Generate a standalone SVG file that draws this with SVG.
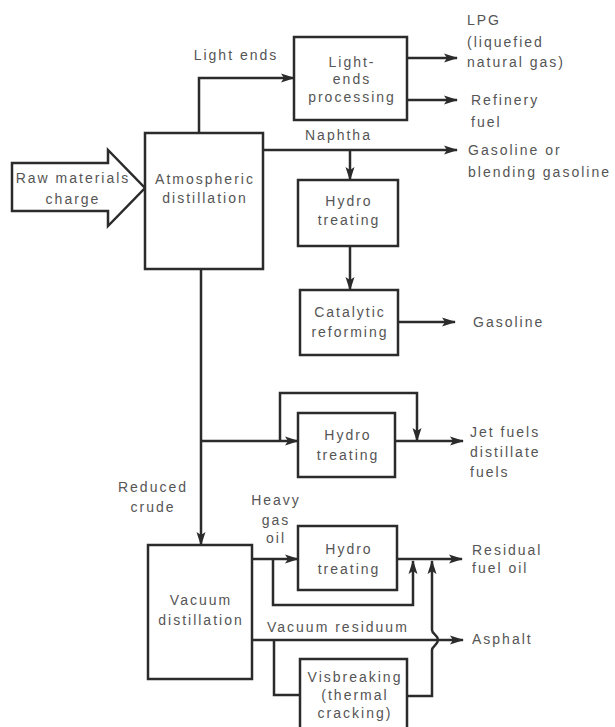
<svg xmlns="http://www.w3.org/2000/svg" width="615" height="727" viewBox="0 0 615 727">
<defs>
<style>
.box{fill:#fff;stroke:#2b2b2b;stroke-width:2.5}
.ln{fill:none;stroke:#2b2b2b;stroke-width:2.5;marker-end:url(#ah)}
.pl{fill:none;stroke:#2b2b2b;stroke-width:2.5}
text{font-family:"Liberation Sans",Arial,sans-serif;font-size:14px;fill:#555;letter-spacing:2px}
.c{text-anchor:middle}
</style>
<marker id="ah" markerUnits="userSpaceOnUse" markerWidth="14" markerHeight="10" refX="13" refY="5" orient="auto">
<path d="M0,0.5 L14,5 L0,9.5 L3,5 Z" fill="#2b2b2b"/>
</marker>
</defs>
<rect width="615" height="727" fill="#fff"/>

<g id="connectors">
<path class="ln" d="M199,133 V78 H294"/>
<path class="ln" d="M407,58 H457"/>
<path class="ln" d="M407,100 H457"/>
<path class="ln" d="M263,150 H457"/>
<path class="ln" d="M350,150 V180"/>
<path class="ln" d="M350,246 V290"/>
<path class="ln" d="M398,322 H455"/>
<path class="ln" d="M201,269 V545"/>
<path class="ln" d="M201,441 H298"/>
<path class="ln" d="M280,441 V393 H417 V441"/>
<path class="ln" d="M395,441 H463"/>
<path class="ln" d="M252,559 H298"/>
<path class="ln" d="M273,559 V605 H413 V561"/>
<path class="ln" d="M397,559 H462"/>
<path class="ln" d="M252,640 H463"/>
<path class="pl" d="M274,640 V695 H300"/>
<path class="ln" d="M407,696 H432 V650 C432,646 438,645 438,640 C438,635 432,634 432,630 V561"/>
</g>

<g id="raw-materials">
<path class="box" d="M12,163 H108 V150 L145,188 L108,226 V211 H12 Z"/>
<text class="c" x="73" y="183">Raw materials</text>
<text class="c" x="73" y="204">charge</text>
</g>

<g id="atmospheric-distillation">
<rect class="box" x="145" y="133" width="118" height="136"/>
<text class="c" x="205" y="184">Atmospheric</text>
<text class="c" x="205" y="203">distillation</text>
</g>

<g id="light-ends-processing">
<rect class="box" x="294" y="37" width="113" height="83"/>
<text class="c" x="352" y="67">Light-</text>
<text class="c" x="352" y="84">ends</text>
<text class="c" x="352" y="102">processing</text>
</g>

<g id="hydro-treating-1">
<rect class="box" x="298" y="180" width="100" height="66"/>
<text class="c" x="349" y="206">Hydro</text>
<text class="c" x="349" y="225">treating</text>
</g>

<g id="catalytic-reforming">
<rect class="box" x="300" y="290" width="98" height="65"/>
<text class="c" x="350" y="317">Catalytic</text>
<text class="c" x="350" y="337">reforming</text>
</g>

<g id="hydro-treating-2">
<rect class="box" x="298" y="413" width="97" height="64"/>
<text class="c" x="348" y="440">Hydro</text>
<text class="c" x="348" y="460">treating</text>
</g>

<g id="vacuum-distillation">
<rect class="box" x="148" y="545" width="104" height="134"/>
<text class="c" x="201" y="605">Vacuum</text>
<text class="c" x="201" y="625">distillation</text>
</g>

<g id="hydro-treating-3">
<rect class="box" x="298" y="526" width="99" height="64"/>
<text class="c" x="349" y="554">Hydro</text>
<text class="c" x="349" y="574">treating</text>
</g>

<g id="visbreaking">
<rect class="box" x="300" y="659" width="107" height="72"/>
<text class="c" x="355" y="682">Visbreaking</text>
<text class="c" x="355" y="700">(thermal</text>
<text class="c" x="355" y="718">cracking)</text>
</g>

<g id="labels">
<text class="c" x="236" y="60">Light ends</text>
<text x="305" y="140">Naphtha</text>
<text x="467" y="25">LPG</text>
<text x="467" y="47">(liquefied</text>
<text x="467" y="67">natural gas)</text>
<text x="471" y="105">Refinery</text>
<text x="471" y="127">fuel</text>
<text x="468" y="155">Gasoline or</text>
<text x="468" y="177">blending gasoline</text>
<text x="473" y="327">Gasoline</text>
<text x="470" y="437">Jet fuels</text>
<text x="470" y="457">distillate</text>
<text x="470" y="477">fuels</text>
<text class="c" x="153" y="492">Reduced</text>
<text class="c" x="153" y="512">crude</text>
<text class="c" x="276" y="505">Heavy</text>
<text class="c" x="276" y="525">gas</text>
<text class="c" x="276" y="543">oil</text>
<text x="267" y="632">Vacuum residuum</text>
<text x="472" y="555">Residual</text>
<text x="472" y="573">fuel oil</text>
<text x="472" y="644">Asphalt</text>
</g>
</svg>
